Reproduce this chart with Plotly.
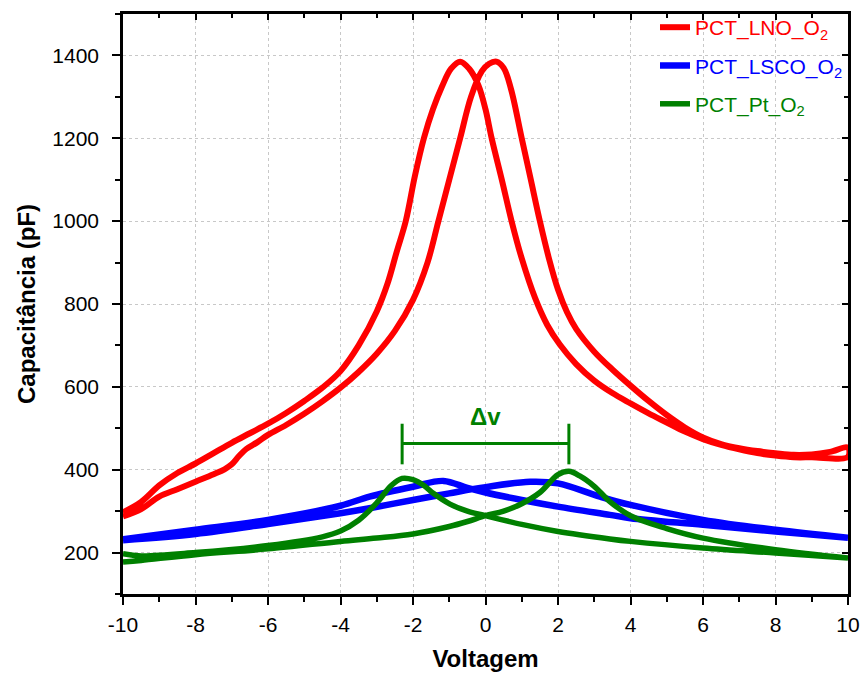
import plotly.graph_objects as go
import numpy as np

# ---- LNO (red) ----
lno_fwd_v = [-10, -9.5, -9, -8.5, -8, -7.5, -7.2, -7.0, -6.8, -6.6, -6.3, -6, -5.5, -5, -4.5, -4, -3.5, -3, -2.5,
             -2.0, -1.6, -1.3, -1.0, -0.7, -0.4, -0.1, 0.1, 0.3, 0.5, 0.7, 1.0, 1.25, 1.5, 1.75, 2.0, 2.25, 2.5,
             3.0, 3.5, 4.0, 4.5, 5.0, 5.5, 6.0, 6.5, 7.0, 7.5, 8.0, 8.5, 9.0, 9.5, 10]
lno_fwd_c = [287, 305, 335, 353, 371, 389, 401, 413, 433, 450, 466, 484, 508, 535, 565, 598, 636, 680, 735,
             810, 900, 1000, 1100, 1200, 1300, 1362, 1380, 1385, 1370, 1320, 1200, 1100, 1000, 910, 835, 780, 740,
             685, 642, 603, 566, 532, 502, 478, 462, 452, 445, 440, 436, 437, 443, 453]
lno_rev_v = [-10, -9.5, -9, -8.5, -8, -7.5, -7, -6.5, -6, -5.5, -5, -4.5, -4, -3.5, -3, -2.7, -2.45, -2.2,
             -1.95, -1.7, -1.45, -1.2, -0.95, -0.7, -0.45, -0.2, 0.0, 0.17, 0.45, 0.72, 1.0, 1.37, 1.7, 2.05,
             2.5, 3.0, 3.5, 4.0, 4.5, 5.0, 5.5, 6.0, 6.5, 7.0, 7.5, 8.0, 8.5, 9.0, 10]
lno_rev_c = [297, 322, 362, 392, 415, 440, 465, 488, 511, 537, 566, 598, 638, 700, 782, 850, 926, 1000,
             1108, 1200, 1270, 1325, 1368, 1385, 1368, 1329, 1270, 1200, 1100, 1000, 910, 814, 750, 702,
             655, 615, 585, 560, 536, 514, 492, 474, 460, 449, 440, 434, 430, 430, 431]

# ---- LSCO (blue) ----
lsco_a_v = [-10, -8, -6, -4, -3.2, -2, -1.16, -0.5, 0, 1, 2, 3.43, 4, 6, 8, 10]
lsco_a_c = [232, 255, 279, 313, 335, 359, 373, 356, 345, 327, 311, 291, 283, 267, 251, 236]
lsco_b_v = [-10, -8, -6, -4, -3.2, -2, -1, 0, 1.23, 2, 3.16, 4, 6, 8, 10]
lsco_b_c = [230, 245, 269, 295, 307, 327, 343, 358, 371, 367, 335, 315, 279, 255, 236]

# ---- Pt (green) ----
pt_a_v = [-10, -9.5, -8, -6, -4.5, -4, -3.5, -3.0, -2.6, -2.3, -2.0, -1.7, -1.44, -0.98, -0.5, 0, 1, 2, 3.43,
          4, 6, 8, 10]
pt_a_c = [197, 192, 200, 217, 238, 252, 278, 320, 362, 379, 376, 362, 343, 317, 300, 289, 268, 251, 233,
          227, 211, 199, 187]
pt_b_v = [-10, -9.5, -8, -6, -4, -3, -2, -1, -0.5, 0, 0.5, 1, 1.5, 2.0, 2.3, 2.6, 3.0, 3.43, 4, 5, 6, 8, 10]
pt_b_c = [177, 181, 195, 209, 227, 235, 245, 263, 275, 289, 300, 318, 345, 388, 396, 385, 360, 323, 289,
          258, 235, 207, 187]

x_ticks = [-10, -8, -6, -4, -2, 0, 2, 4, 6, 8, 10]
y_ticks = [200, 400, 600, 800, 1000, 1200, 1400]

RED, BLUE, GREEN = "#ff0000", "#0000ff", "#008000"
FONT = "Arial, Liberation Sans, sans-serif"


def loop(v1, c1, v2, c2):
    return list(v1) + list(v2[::-1]), list(c1) + list(c2[::-1])


fig = go.Figure()
for i, (v1, c1, v2, c2, col, w, name) in enumerate([
    (lno_fwd_v, lno_fwd_c, lno_rev_v, lno_rev_c, RED, 6, "PCT_LNO_O<sub>2</sub>"),
    (lsco_b_v, lsco_b_c, lsco_a_v, lsco_a_c, BLUE, 6.5, "PCT_LSCO_O<sub>2</sub>"),
    (pt_b_v, pt_b_c, pt_a_v, pt_a_c, GREEN, 5.5, "PCT_Pt_O<sub>2</sub>"),
]):
    xv, yv = loop(v1, c1, v2, c2)
    fig.add_trace(go.Scatter(
        x=xv, y=yv, mode="lines", legendgroup=f"g{i}",
        line=dict(color=col, width=w, shape="spline", smoothing=1.0),
        name=f'<span style="color:{col}">{name}</span>'))

# invisible trace to carry the mirrored (top/right) axes with inward ticks
fig.add_trace(go.Scatter(x=[-10, 10], y=[100, 1500], mode="lines", line=dict(width=0),
                         xaxis="x2", yaxis="y2", showlegend=False, hoverinfo="skip", opacity=0))

# Δv marker between the two Pt peaks
pk_left = pt_a_v[int(np.argmax(pt_a_c))]
pk_right = pt_b_v[int(np.argmax(pt_b_c))]
y_bar = 463
fig.add_shape(type="line", x0=pk_left, x1=pk_right, y0=y_bar, y1=y_bar,
              line=dict(color=GREEN, width=3), xref="x", yref="y")
for xx in (pk_left, pk_right):
    fig.add_shape(type="line", x0=xx, x1=xx, y0=y_bar - 50, y1=y_bar + 48,
                  line=dict(color=GREEN, width=3), xref="x", yref="y")
fig.add_annotation(x=(pk_left + pk_right) / 2, y=y_bar + 65, text="<b>Δv</b>",
                   showarrow=False, font=dict(family=FONT, size=24, color=GREEN))


def main_axis(**kw):
    d = dict(
        showline=True, linecolor="black", linewidth=2.5, mirror=True,
        ticks="outside", tickcolor="black", tickwidth=2, ticklen=8,
        showgrid=True, gridcolor="#c8c8c8", griddash="dot", gridwidth=1,
        zeroline=False, automargin=False,
        tickfont=dict(family=FONT, size=21, color="black"),
        minor=dict(ticks="outside", ticklen=5, tickwidth=2, tickcolor="black", showgrid=False),
    )
    d.update(kw)
    return d


def mirror_axis(**kw):
    d = dict(showline=False, showgrid=False, zeroline=False, showticklabels=False,
             ticks="inside", ticklen=6, tickwidth=2, tickcolor="black", automargin=False,
             minor=dict(ticks="inside", ticklen=4, tickwidth=2, tickcolor="black", showgrid=False))
    d.update(kw)
    return d


xaxis = main_axis(range=[-10, 10], tickvals=x_ticks, ticktext=[str(t) for t in x_ticks],
                  ticklabelstandoff=2,
                  title=dict(text="<b>Voltagem</b>", font=dict(family=FONT, size=24, color="black"), standoff=16))
xaxis["minor"]["dtick"] = 1
yaxis = main_axis(range=[100, 1500], tickvals=y_ticks, ticktext=[str(t) for t in y_ticks],
                  ticklabelstandoff=9,
                  title=dict(text="<b>Capacitância (pF)</b>", font=dict(family=FONT, size=24, color="black"),
                             standoff=10))
yaxis["minor"]["dtick"] = 100
yaxis["minor"]["tick0"] = 100

xaxis2 = mirror_axis(overlaying="x", side="top", anchor="y2", range=[-10, 10], tickvals=x_ticks)
xaxis2["minor"]["dtick"] = 1
yaxis2 = mirror_axis(overlaying="y", side="right", anchor="x2", range=[100, 1500], tickvals=y_ticks)
yaxis2["minor"]["dtick"] = 100
yaxis2["minor"]["tick0"] = 100

fig.update_layout(
    width=861, height=677,
    margin=dict(l=123, r=13, t=7, b=83),
    paper_bgcolor="white", plot_bgcolor="white",
    showlegend=True,
    legend=dict(x=1.0, y=1.012, xanchor="right", yanchor="top", bgcolor="rgba(0,0,0,0)",
                font=dict(family=FONT, size=21), tracegroupgap=8),
    xaxis=xaxis, yaxis=yaxis, xaxis2=xaxis2, yaxis2=yaxis2,
)

fig.write_html("out.html", config={"displayModeBar": False},
               post_script="document.body.style.margin='0';document.body.style.overflow='hidden';")
